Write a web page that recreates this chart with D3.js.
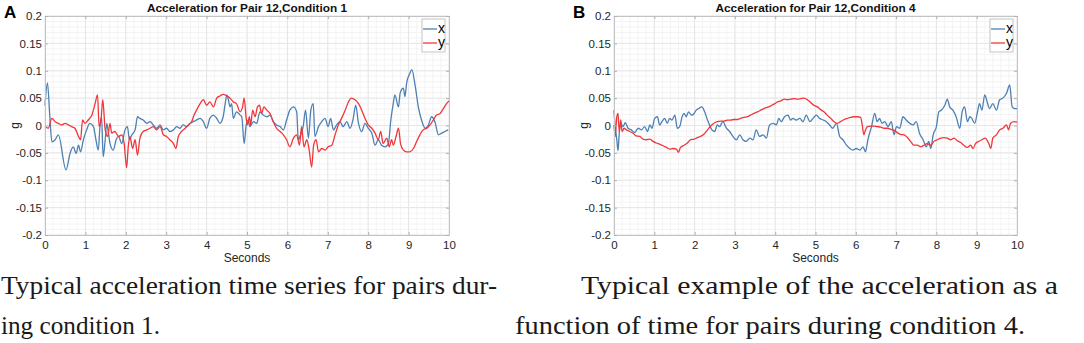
<!DOCTYPE html>
<html>
<head>
<meta charset="utf-8">
<script src="https://cdn.jsdelivr.net/npm/d3@7"></script>
<style>
  body { margin: 0; background: #fff; }
  svg { display: block; }
</style>
</head>
<body>
<svg id="chart" width="1084" height="343"></svg>
<script>
// ---- data: [seconds, g] ----
const accelA_x = [[0,0.037],[0.06,0.078],[0.12,0.016],[0.17,-0.03],[0.25,-0.026],[0.33,-0.017],[0.52,-0.081],[0.62,-0.051],[0.7,-0.039],[0.77,-0.051],[0.83,-0.036],[0.88,-0.048],[0.95,-0.026],[1.03,-0.008],[1.11,0.004],[1.2,-0.002],[1.26,-0.026],[1.32,-0.045],[1.36,-0.002],[1.4,0.016],[1.44,-0.057],[1.49,-0.026],[1.53,0.004],[1.57,-0.014],[1.61,-0.033],[1.69,-0.045],[1.76,-0.026],[1.82,-0.02],[1.9,-0.033],[1.98,-0.008],[2.04,-0.002],[2.09,-0.026],[2.15,-0.017],[2.23,-0.008],[2.29,0.016],[2.35,0.013],[2.43,0.01],[2.52,0.004],[2.6,0.007],[2.68,0.001],[2.76,-0.005],[2.85,0.001],[2.93,-0.008],[3.01,-0.005],[3.09,-0.011],[3.18,-0.008],[3.26,-0.002],[3.34,-0.005],[3.42,0.001],[3.51,-0.002],[3.59,0.004],[3.67,0.007],[3.75,0.01],[3.84,0.013],[3.92,0.007],[4,-0.005],[4.08,0.013],[4.17,0.019],[4.25,0.013],[4.33,0.004],[4.41,0.016],[4.46,0.04],[4.5,0.056],[4.54,0.047],[4.58,0.034],[4.62,0.04],[4.66,0.013],[4.74,0.025],[4.83,0.019],[4.87,0.016],[4.93,-0.033],[4.98,0.001],[5.03,0.01],[5.07,-0.002],[5.16,0.007],[5.24,0.004],[5.32,0.025],[5.4,0.019],[5.49,0.016],[5.57,0.019],[5.65,0.007],[5.73,0.001],[5.82,-0.002],[5.9,-0.008],[5.98,0.01],[6.06,0.028],[6.15,0.034],[6.23,0.025],[6.27,-0.026],[6.31,-0.02],[6.39,-0.002],[6.45,0.028],[6.52,-0.023],[6.58,0.028],[6.64,0.04],[6.68,-0.02],[6.77,-0.002],[6.85,0.007],[6.93,0.013],[7.01,-0.002],[7.07,0.013],[7.14,-0.008],[7.22,0.001],[7.3,0.007],[7.38,-0.002],[7.47,0.007],[7.55,-0.005],[7.63,0.013],[7.69,0.037],[7.76,0.004],[7.84,-0.011],[7.92,0.004],[8,-0.005],[8.09,-0.014],[8.17,-0.036],[8.25,-0.026],[8.33,-0.036],[8.42,-0.039],[8.5,-0.033],[8.56,0.01],[8.62,0.04],[8.66,0.056],[8.75,0.034],[8.79,0.059],[8.87,0.068],[8.91,0.053],[8.95,0.077],[9.03,0.095],[9.08,0.102],[9.16,0.074],[9.24,0.034],[9.32,0.01],[9.41,-0.005],[9.49,0.001],[9.57,0.016],[9.65,0.007],[9.74,-0.017],[9.82,-0.014],[9.9,-0.011],[9.98,-0.008]];

const accelA_y = [[0,-0.002],[0.08,-0.005],[0.17,0.013],[0.25,0.007],[0.33,0.004],[0.41,0.001],[0.5,0.004],[0.58,0.001],[0.66,-0.002],[0.74,-0.005],[0.83,-0.02],[0.88,-0.026],[0.93,0.01],[0.99,0.004],[1.07,0.01],[1.16,0.019],[1.24,0.04],[1.3,0.056],[1.34,-0.002],[1.39,0.013],[1.43,0.047],[1.49,-0.008],[1.55,-0.02],[1.61,0.004],[1.65,-0.014],[1.73,-0.011],[1.82,-0.02],[1.9,-0.017],[1.96,-0.033],[2.02,-0.077],[2.06,-0.039],[2.1,-0.02],[2.17,-0.042],[2.23,-0.026],[2.29,-0.054],[2.35,-0.023],[2.43,-0.011],[2.52,-0.008],[2.6,-0.005],[2.68,-0.002],[2.76,-0.008],[2.85,-0.002],[2.93,-0.017],[3.01,-0.02],[3.09,-0.026],[3.18,-0.033],[3.24,-0.042],[3.3,-0.02],[3.38,-0.011],[3.47,-0.005],[3.55,0.001],[3.63,0.007],[3.69,0.019],[3.75,0.028],[3.84,0.04],[3.92,0.047],[4,0.037],[4.08,0.043],[4.17,0.034],[4.25,0.05],[4.33,0.054],[4.41,0.057],[4.5,0.054],[4.58,0.05],[4.66,0.043],[4.74,0.04],[4.83,0.025],[4.89,0.034],[4.93,0.05],[4.98,0.013],[5.01,0.001],[5.06,0.016],[5.09,0.001],[5.14,0.028],[5.2,0.016],[5.26,0.034],[5.31,0.037],[5.36,0.022],[5.42,0.034],[5.49,0.028],[5.57,0.022],[5.65,0.007],[5.73,-0.005],[5.82,-0.011],[5.9,-0.017],[5.98,-0.026],[6.06,-0.039],[6.15,-0.023],[6.23,-0.017],[6.3,-0.036],[6.35,-0.002],[6.41,-0.039],[6.48,-0.026],[6.54,-0.045],[6.6,-0.076],[6.65,-0.036],[6.71,-0.026],[6.77,-0.048],[6.85,-0.042],[6.93,-0.045],[7.01,-0.039],[7.1,-0.036],[7.18,-0.017],[7.26,0.001],[7.34,0.013],[7.43,0.028],[7.51,0.043],[7.59,0.05],[7.67,0.047],[7.76,0.04],[7.84,0.028],[7.92,0.013],[8,0.001],[8.09,-0.005],[8.17,-0.014],[8.25,-0.026],[8.31,-0.011],[8.37,-0.033],[8.46,-0.023],[8.52,-0.039],[8.58,-0.026],[8.62,-0.036],[8.69,-0.02],[8.75,-0.005],[8.8,-0.033],[8.87,-0.045],[8.95,-0.048],[9.03,-0.048],[9.12,-0.042],[9.2,-0.029],[9.28,-0.017],[9.36,-0.008],[9.45,-0.005],[9.53,0.001],[9.61,0.01],[9.69,0.019],[9.78,0.022],[9.86,0.031],[9.94,0.04],[10,0.045]];

const accelB_x = [[0,0.028],[0.03,-0.002],[0.07,-0.026],[0.1,-0.046],[0.13,-0.014],[0.17,0.004],[0.22,-0.002],[0.28,0.005],[0.35,-0.005],[0.43,-0.008],[0.51,-0.013],[0.6,-0.005],[0.68,-0.008],[0.76,-0.002],[0.83,-0.011],[0.89,0.001],[0.94,-0.005],[1.01,0.013],[1.08,0.016],[1.13,0.001],[1.19,0.007],[1.26,0.013],[1.32,0.004],[1.38,0.013],[1.44,0.01],[1.51,0.019],[1.57,-0.005],[1.63,-0.002],[1.69,0.016],[1.74,0.022],[1.79,0.016],[1.85,0.025],[1.92,0.019],[1.99,0.022],[2.04,0.028],[2.1,0.031],[2.18,0.034],[2.25,0.025],[2.32,0.01],[2.37,0.001],[2.43,-0.008],[2.5,-0.011],[2.56,0.001],[2.62,-0.002],[2.7,0.007],[2.79,-0.005],[2.87,-0.011],[2.95,-0.02],[3.04,-0.026],[3.12,-0.017],[3.2,-0.026],[3.28,-0.029],[3.37,-0.023],[3.45,-0.026],[3.53,-0.008],[3.61,-0.02],[3.7,-0.017],[3.78,-0.023],[3.86,0.001],[3.95,0.004],[4.03,0.001],[4.09,0.013],[4.15,0.007],[4.23,0.016],[4.32,0.019],[4.38,0.01],[4.44,0.013],[4.52,0.01],[4.61,0.013],[4.69,0.007],[4.77,0.019],[4.86,0.007],[4.94,0.013],[5.02,0.019],[5.1,0.013],[5.19,0.01],[5.27,0.007],[5.35,0.001],[5.43,-0.005],[5.52,0.004],[5.6,-0.02],[5.68,-0.026],[5.77,-0.036],[5.85,-0.042],[5.93,-0.045],[6.01,-0.042],[6.1,-0.045],[6.18,-0.039],[6.24,-0.048],[6.3,-0.026],[6.39,-0.002],[6.47,0.022],[6.53,0.007],[6.59,0.013],[6.65,0.004],[6.72,0.007],[6.8,-0.002],[6.88,0.007],[6.95,-0.017],[7.01,-0.002],[7.09,-0.005],[7.17,0.016],[7.25,0.01],[7.34,0.004],[7.42,0.001],[7.5,0.007],[7.58,-0.014],[7.67,-0.026],[7.75,-0.039],[7.81,-0.029],[7.86,-0.042],[7.92,-0.017],[8,-0.002],[8.06,0.025],[8.12,0.028],[8.21,0.037],[8.27,0.048],[8.33,0.034],[8.41,0.028],[8.49,0.016],[8.58,-0.005],[8.64,0.025],[8.7,0.034],[8.77,0.007],[8.83,0.016],[8.88,0.013],[8.95,0.004],[9.02,0.025],[9.07,0.04],[9.13,0.028],[9.2,0.056],[9.26,0.043],[9.32,0.031],[9.4,0.04],[9.49,0.028],[9.57,0.047],[9.65,0.05],[9.74,0.059],[9.82,0.074],[9.88,0.034],[9.94,0.031],[10,0.031]];

const accelB_y = [[0,0.001],[0.03,-0.02],[0.07,0.016],[0.1,0.022],[0.13,-0.011],[0.17,0.01],[0.2,-0.011],[0.25,-0.005],[0.31,-0.008],[0.39,-0.011],[0.47,-0.014],[0.55,-0.019],[0.64,-0.02],[0.72,-0.025],[0.8,-0.026],[0.89,-0.025],[0.97,-0.029],[1.05,-0.032],[1.13,-0.034],[1.22,-0.037],[1.3,-0.04],[1.38,-0.043],[1.46,-0.042],[1.55,-0.043],[1.6,-0.049],[1.65,-0.04],[1.74,-0.036],[1.82,-0.032],[1.9,-0.026],[1.99,-0.025],[2.07,-0.022],[2.15,-0.02],[2.23,-0.016],[2.32,-0.008],[2.4,-0.001],[2.48,0.004],[2.56,0.007],[2.65,0.008],[2.73,0.008],[2.81,0.01],[2.89,0.01],[2.98,0.011],[3.06,0.011],[3.14,0.013],[3.23,0.015],[3.31,0.016],[3.39,0.019],[3.47,0.022],[3.56,0.025],[3.64,0.028],[3.72,0.031],[3.8,0.033],[3.89,0.036],[3.97,0.039],[4.05,0.043],[4.14,0.045],[4.22,0.048],[4.3,0.047],[4.38,0.048],[4.47,0.049],[4.55,0.048],[4.63,0.049],[4.71,0.05],[4.8,0.047],[4.88,0.042],[4.96,0.037],[5.05,0.034],[5.13,0.029],[5.21,0.025],[5.29,0.019],[5.38,0.013],[5.46,0.007],[5.54,0.004],[5.62,0.007],[5.71,0.011],[5.79,0.013],[5.87,0.015],[5.96,0.016],[6.04,0.016],[6.12,0.015],[6.16,0.001],[6.2,-0.017],[6.24,-0.008],[6.29,-0.002],[6.37,-0.001],[6.45,-0.001],[6.53,-0.002],[6.62,-0.003],[6.7,-0.005],[6.78,-0.005],[6.87,-0.007],[6.95,-0.009],[7.03,-0.013],[7.11,-0.016],[7.2,-0.017],[7.28,-0.022],[7.36,-0.029],[7.44,-0.036],[7.53,-0.036],[7.61,-0.039],[7.69,-0.036],[7.77,-0.033],[7.86,-0.036],[7.94,-0.029],[8.02,-0.026],[8.11,-0.023],[8.19,-0.022],[8.27,-0.023],[8.35,-0.026],[8.44,-0.023],[8.52,-0.028],[8.6,-0.031],[8.68,-0.036],[8.77,-0.04],[8.85,-0.036],[8.91,-0.042],[8.97,-0.033],[9.05,-0.029],[9.13,-0.026],[9.21,-0.023],[9.3,-0.033],[9.35,-0.042],[9.4,-0.023],[9.49,-0.017],[9.57,-0.008],[9.65,-0.005],[9.74,0.001],[9.79,-0.008],[9.84,0.004],[9.93,0.007],[10,0.006]];

const xTicks = [0, 1, 2, 3, 4, 5, 6, 7, 8, 9, 10];
const yTicks = [-0.2, -0.15, -0.1, -0.05, 0, 0.05, 0.1, 0.15, 0.2];
const seriesNames = ["x", "y"];
const panelTitles = ["Acceleration for Pair 12,Condition 1", "Acceleration for Pair 12,Condition 4"];
const panelLetters = ["A", "B"];
const captionA = ["Typical acceleration time series for pairs dur-", "ing condition 1."];
const captionB = ["Typical example of the acceleration as a", "function of time for pairs during condition 4."];

const COLORS = { x: "#4d80b3", y: "#f0363a" };
const SANS = "'Liberation Sans', Arial, sans-serif";
const SERIF = "'Liberation Serif', 'Times New Roman', serif";

const svg = d3.select("#chart");

function drawPanel({ left, right, top, bottom, title, letter, xs, ys }) {
  const g = svg.append("g");
  const x = d3.scaleLinear().domain([0, 10]).range([left, right]);
  const y = d3.scaleLinear().domain([-0.2, 0.2]).range([bottom, top]);

  // minor grid
  const minorX = d3.range(0, 10.001, 0.2);
  const minorY = d3.range(-0.2, 0.2001, 0.01);
  g.append("g").selectAll("line").data(minorX).join("line")
    .attr("x1", (d) => x(d)).attr("x2", (d) => x(d))
    .attr("y1", top).attr("y2", bottom)
    .attr("stroke", "#f4f4f4").attr("stroke-width", 1);
  g.append("g").selectAll("line").data(minorY).join("line")
    .attr("y1", (d) => y(d)).attr("y2", (d) => y(d))
    .attr("x1", left).attr("x2", right)
    .attr("stroke", "#f4f4f4").attr("stroke-width", 1);

  // major grid
  g.append("g").selectAll("line").data(xTicks).join("line")
    .attr("x1", (d) => x(d)).attr("x2", (d) => x(d))
    .attr("y1", top).attr("y2", bottom)
    .attr("stroke", "#e6e6e6").attr("stroke-width", 1);
  g.append("g").selectAll("line").data(yTicks).join("line")
    .attr("y1", (d) => y(d)).attr("y2", (d) => y(d))
    .attr("x1", left).attr("x2", right)
    .attr("stroke", "#e6e6e6").attr("stroke-width", 1);

  // lines
  const line = d3.line().x((d) => x(d[0])).y((d) => y(d[1])).curve(d3.curveMonotoneX);
  g.append("path").datum(xs)
    .attr("fill", "none").attr("stroke", COLORS.x).attr("stroke-width", 1.3)
    .attr("d", line);
  g.append("path").datum(ys)
    .attr("fill", "none").attr("stroke", COLORS.y).attr("stroke-width", 1.3)
    .attr("d", line);

  const fmt = (d) => String(+d.toFixed(2));

  // axes, ticks pointing inward
  const axB = g.append("g").attr("transform", `translate(0,${bottom})`)
    .call(d3.axisBottom(x).tickValues(xTicks).tickFormat(fmt).tickSize(-3).tickPadding(6));
  const axT = g.append("g").attr("transform", `translate(0,${top})`)
    .call(d3.axisTop(x).tickValues(xTicks).tickFormat("").tickSize(-3));
  const axL = g.append("g").attr("transform", `translate(${left},0)`)
    .call(d3.axisLeft(y).tickValues(yTicks).tickFormat(fmt).tickSize(-3).tickPadding(3));
  const axR = g.append("g").attr("transform", `translate(${right},0)`)
    .call(d3.axisRight(y).tickValues(yTicks).tickFormat("").tickSize(-3));
  [axB, axT, axL, axR].forEach((a) => {
    a.select(".domain").attr("stroke", "#c4c4c4");
    a.selectAll(".tick line").attr("stroke", "#b0b0b0");
    a.selectAll("text").attr("fill", "#262626").style("font-family", SANS).style("font-size", "11.5px");
  });

  // title
  g.append("text").attr("x", (left + right) / 2).attr("y", top - 4)
    .attr("text-anchor", "middle").style("font-family", SANS)
    .style("font-size", "11.8px").style("font-weight", "bold").attr("fill", "#111")
    .text(title);

  // panel letter
  g.append("text").attr("x", left - 41).attr("y", top + 2)
    .style("font-family", SANS).style("font-size", "17px").style("font-weight", "bold")
    .attr("fill", "#000").text(letter);

  // axis labels
  g.append("text").attr("x", (left + right) / 2).attr("y", bottom + 27)
    .attr("text-anchor", "middle").style("font-family", SANS).style("font-size", "12px")
    .attr("fill", "#262626").text("Seconds");
  g.append("text")
    .attr("transform", `translate(${left - 26},${y(0)}) rotate(-90)`)
    .attr("text-anchor", "middle").style("font-family", SANS).style("font-size", "12px")
    .attr("fill", "#262626").text("g");

  // legend
  const lg = g.append("g").attr("transform", `translate(${right - 27},${top + 3})`);
  lg.append("rect").attr("width", 23).attr("height", 33)
    .attr("fill", "#fff").attr("stroke", "#c4c4c4");
  seriesNames.forEach((name, i) => {
    const yy = 10 + i * 14;
    lg.append("line").attr("x1", 1).attr("x2", 15).attr("y1", yy).attr("y2", yy)
      .attr("stroke", COLORS[name]).attr("stroke-width", 1.3);
    lg.append("text").attr("x", 16).attr("y", yy + 4)
      .style("font-family", SANS).style("font-size", "14px").attr("fill", "#000")
      .text(name);
  });
}

drawPanel({ left: 45, right: 449, top: 16, bottom: 235, title: panelTitles[0], letter: panelLetters[0], xs: accelA_x, ys: accelA_y });
drawPanel({ left: 614, right: 1017, top: 16, bottom: 235, title: panelTitles[1], letter: panelLetters[1], xs: accelB_x, ys: accelB_y });

// captions
function caption(lines, specs) {
  lines.forEach((txt, i) => {
    const s = specs[i];
    svg.append("text").attr("x", s.x).attr("y", s.y)
      .attr("textLength", s.w).attr("lengthAdjust", "spacingAndGlyphs")
      .style("font-family", SERIF).style("font-size", "26px").attr("fill", "#1a1a1a")
      .text(txt);
  });
}
caption(captionA, [{ x: 1, y: 294, w: 496 }, { x: 1, y: 334, w: 159 }]);
caption(captionB, [{ x: 581, y: 294, w: 477 }, { x: 515, y: 334, w: 510 }]);
</script>
</body>
</html>
